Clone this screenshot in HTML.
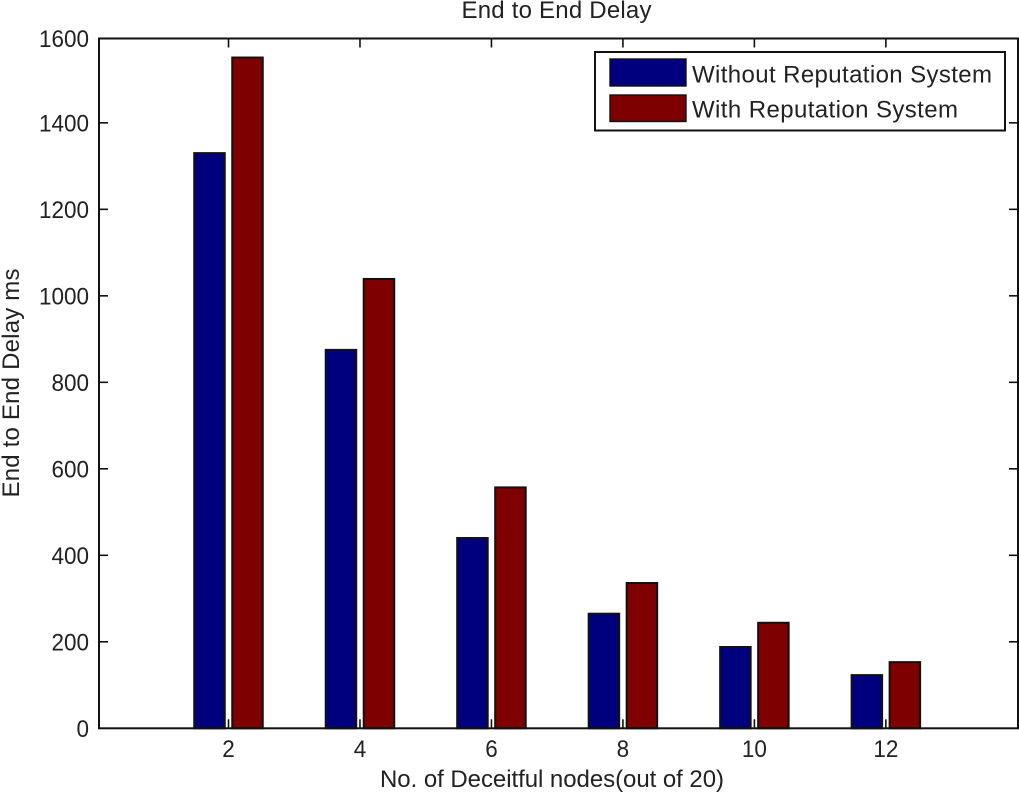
<!DOCTYPE html>
<html>
<head>
<meta charset="utf-8">
<style>
html,body{margin:0;padding:0;background:#fff;width:1019px;height:796px;overflow:hidden}
svg{display:block}
text{font-family:"Liberation Sans",sans-serif;fill:#222;font-size:24px}
</style>
</head>
<body>
<svg id="chart" width="1019" height="796" viewBox="0 0 1019 796" xmlns="http://www.w3.org/2000/svg"></svg>
<script>
const categories = [2, 4, 6, 8, 10, 12];
const withoutReputation = [1330, 875, 440, 265, 188, 123];
const withReputation = [1551, 1039, 557, 336, 244, 153];
const yTickLabels = [0, 200, 400, 600, 800, 1000, 1200, 1400, 1600];
const xTickLabels = [2, 4, 6, 8, 10, 12];

const svg = document.getElementById('chart');
const NS = 'http://www.w3.org/2000/svg';
const left = 99, right = 1018, top_ = 38.5, bottom = 728.3;
const xMin = 0.03, xMax = 14.01, yMin = 0, yMax = 1595;
const xScale = v => left + (v - xMin) / (xMax - xMin) * (right - left);
const yScale = v => bottom - (v - yMin) / (yMax - yMin) * (bottom - top_);

function make(tag, attrs, text) {
  const el = document.createElementNS(NS, tag);
  for (const k in attrs) el.setAttribute(k, attrs[k]);
  if (text !== undefined) el.textContent = text;
  svg.appendChild(el);
  return el;
}

const axesBox = make('rect', {x: left, y: top_, width: right - left, height: bottom - top_, fill: '#fff', stroke: 'none'});



const barWidth = 30.5, barOffset = 19;
function drawBars(values, color, offset, name) {
  values.forEach((v, i) => {
    const cx = xScale(categories[i]) + offset;
    const r = make('rect', {x: cx - barWidth / 2, y: yScale(v), width: barWidth, height: yScale(0) - yScale(v), fill: color, stroke: '#111', 'stroke-width': 2});
    
    
  });
}
drawBars(withoutReputation, '#00007f', -barOffset, 'without-reputation');
drawBars(withReputation, '#7f0000', barOffset, 'with-reputation');

const tickLen = 9;
yTickLabels.forEach(v => {
  const y = Math.max(yScale(v), top_);
  if (v > 0 && v < 1600) {
    const t1 = make('line', {x1: left, x2: left + tickLen, y1: y, y2: y, stroke: '#111', 'stroke-width': 1.6});
    
    
    const t2 = make('line', {x1: right - tickLen, x2: right, y1: y, y2: y, stroke: '#111', 'stroke-width': 1.6});
    
    
  }
  const lab = make('text', {x: 89, y: y + 8.5, 'text-anchor': 'end', 'textLength': String(v).length * 12.5, 'lengthAdjust': 'spacingAndGlyphs'}, v);
  
  
});
xTickLabels.forEach(v => {
  const x = xScale(v);
  const t1 = make('line', {x1: x, x2: x, y1: bottom, y2: bottom - tickLen, stroke: '#111', 'stroke-width': 1.6});
  
  
  const t2 = make('line', {x1: x, x2: x, y1: top_, y2: top_ + tickLen, stroke: '#111', 'stroke-width': 1.6});
  
  
  const lab = make('text', {x: x, y: 757, 'text-anchor': 'middle', textLength: String(v).length * 12.5, lengthAdjust: 'spacingAndGlyphs'}, v);
  
  
});

const frame = make('rect', {x: left, y: top_, width: right - left, height: bottom - top_, fill: 'none', stroke: '#111', 'stroke-width': 2});



const title = make('text', {x: 556.5, y: 18, 'text-anchor': 'middle', textLength: 190, lengthAdjust: 'spacing'}, 'End to End Delay');



const xTitle = make('text', {x: 552, y: 787, 'text-anchor': 'middle', textLength: 344, lengthAdjust: 'spacing'}, 'No. of Deceitful nodes(out of 20)');



const yTitle = make('text', {x: 0, y: 0, 'text-anchor': 'middle', textLength: 229, lengthAdjust: 'spacing', transform: 'translate(19,383) rotate(-90)'}, 'End to End Delay ms');



const legendBox = make('rect', {x: 595, y: 52, width: 410, height: 78.5, fill: '#fff', stroke: '#111', 'stroke-width': 2});


const sw1 = make('rect', {x: 610, y: 59, width: 76, height: 27, fill: '#00007f', stroke: '#111', 'stroke-width': 1.4});


const sw2 = make('rect', {x: 610, y: 95, width: 76, height: 26.5, fill: '#7f0000', stroke: '#111', 'stroke-width': 1.4});


const lt1 = make('text', {x: 692, y: 82.5, textLength: 300, lengthAdjust: 'spacing'}, 'Without Reputation System');


const lt2 = make('text', {x: 692, y: 117.5, textLength: 266, lengthAdjust: 'spacing'}, 'With Reputation System');


</script>
</body>
</html>
